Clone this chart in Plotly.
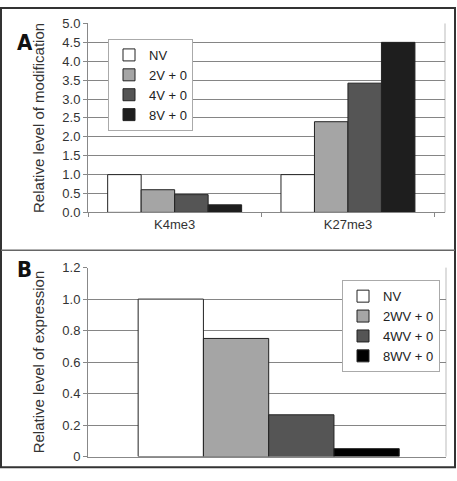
import plotly.graph_objects as go

# ---- data ----
mod_categories = ["K4me3", "K27me3"]
mod_series = ["NV", "2V + 0", "4V + 0", "8V + 0"]
mod_nv = [1.0, 1.0]
mod_2v = [0.6, 2.4]
mod_4v = [0.47, 3.42]
mod_8v = [0.2, 4.5]

expr_category = ["expression"]
expr_series = ["NV", "2WV + 0", "4WV + 0", "8WV + 0"]
expr_values = [1.0, 0.75, 0.265, 0.05]

mod_ticks = [0, 0.5, 1, 1.5, 2, 2.5, 3, 3.5, 4, 4.5, 5]
expr_ticks = [0, 0.2, 0.4, 0.6, 0.8, 1.0, 1.2]
expr_ticklabels = ["0", "0.2", "0.4", "0.6", "0.8", "1.0", "1.2"]

colors_a = ["#ffffff", "#a5a5a5", "#555555", "#1e1e1e"]
colors_b = ["#ffffff", "#a5a5a5", "#555555", "#000000"]

W, H = 457, 481
FONT = "Liberation Sans, Arial, sans-serif"

fig = go.Figure()

for name, vals, col in zip(mod_series, [mod_nv, mod_2v, mod_4v, mod_8v], colors_a):
    fig.add_trace(go.Bar(
        x=mod_categories, y=vals, name=name, marker=dict(color=col, line=dict(color="#222222", width=1)),
        xaxis="x", yaxis="y", legend="legend"))

for name, val, col in zip(expr_series, expr_values, colors_b):
    fig.add_trace(go.Bar(
        x=expr_category, y=[val], name=name, marker=dict(color=col, line=dict(color="#222222", width=1)),
        xaxis="x2", yaxis="y2", legend="legend2"))

def px_x(p):
    return p / W

def px_y(p):
    return 1 - p / H

axis_common = dict(linecolor="#888888", linewidth=1, showline=True, ticks="outside",
                   tickcolor="#888888", ticklen=4, tickfont=dict(family=FONT, size=13, color="#333333"))

fig.update_layout(
    width=W, height=H,
    margin=dict(l=0, r=0, t=0, b=0),
    paper_bgcolor="white", plot_bgcolor="white",
    barmode="group", bargap=0.227, bargroupgap=0,
    font=dict(family=FONT, color="#333333"),
    xaxis=dict(domain=[px_x(88), px_x(445)], anchor="y", type="category", range=[-0.5, 1.56],
               tickson="boundaries", showgrid=False, **axis_common),
    yaxis=dict(domain=[px_y(212), px_y(17)], anchor="x", range=[0, 5], tickvals=mod_ticks,
               tickformat=".1f", showgrid=True, gridcolor="#858585", gridwidth=1, zeroline=False,
               title=dict(text="Relative level of modification", font=dict(family=FONT, size=15, color="#333333"), standoff=14),
               **axis_common),
    xaxis2=dict(domain=[px_x(88), px_x(446)], anchor="y2", type="category", range=[-0.535, 0.525],
                showgrid=False, showticklabels=False, showline=True, linecolor="#888888", linewidth=1,
                ticks=""),
    yaxis2=dict(domain=[px_y(464), px_y(269)], anchor="x2", range=[0, 1.2], tickvals=expr_ticks,
                ticktext=expr_ticklabels, showgrid=True, gridcolor="#858585", gridwidth=1, zeroline=False,
                title=dict(text="Relative level of expression", font=dict(family=FONT, size=15, color="#333333"), standoff=14),
                **axis_common),
    legend=dict(x=px_x(108), y=px_y(33), xanchor="left", yanchor="top", bgcolor="white",
                bordercolor="#aaaaaa", borderwidth=1, font=dict(family=FONT, size=13, color="#222222"),
                itemwidth=30, traceorder="normal"),
    legend2=dict(x=px_x(342), y=px_y(282), xanchor="left", yanchor="top", bgcolor="white",
                 bordercolor="#aaaaaa", borderwidth=1, font=dict(family=FONT, size=13, color="#222222"),
                 itemwidth=30, traceorder="normal"),
    showlegend=True,
)

shapes = [
    dict(type="rect", xref="paper", yref="paper", x0=px_x(1), x1=px_x(455), y0=px_y(475), y1=px_y(1),
         line=dict(color="#333333", width=2)),
    dict(type="line", xref="paper", yref="paper", x0=px_x(1), x1=px_x(455), y0=px_y(251), y1=px_y(251),
         line=dict(color="#666666", width=1.5)),
    dict(type="line", xref="x domain", yref="y domain", x0=1, x1=1, y0=0, y1=1,
         line=dict(color="#bbbbbb", width=1), layer="below"),
    dict(type="line", xref="x2 domain", yref="y2 domain", x0=1, x1=1, y0=0, y1=1,
         line=dict(color="#bbbbbb", width=1), layer="below"),
]
fig.update_layout(shapes=shapes)

label_font = dict(family="Liberation Sans Narrow, DejaVu Sans Condensed, sans-serif", size=22, color="#111111")
fig.add_annotation(text="<b>A</b>", xref="paper", yref="paper", x=px_x(15), y=px_y(22),
                   showarrow=False, font=label_font)
fig.add_annotation(text="<b>B</b>", xref="paper", yref="paper", x=px_x(15), y=px_y(271),
                   showarrow=False, font=label_font)

fig.write_html("out.html", config={"displayModeBar": False},
               post_script="document.body.style.margin='0';document.body.style.overflow='hidden';")
